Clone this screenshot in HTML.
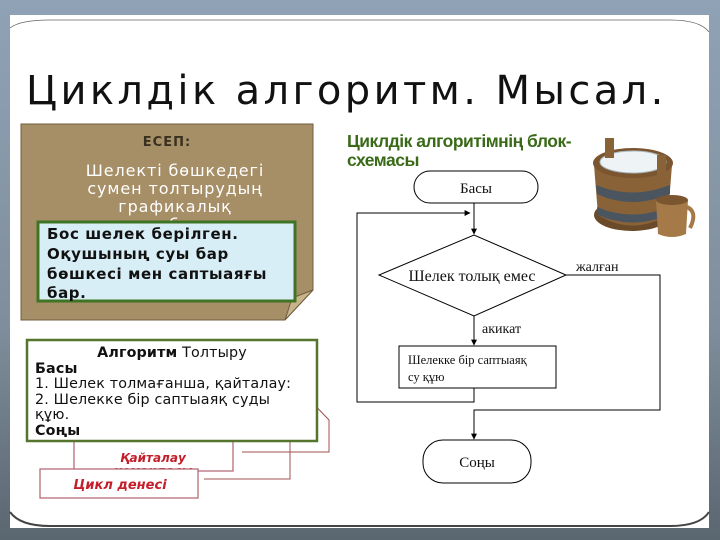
<!DOCTYPE html>
<html><head><meta charset="utf-8"><style>
html,body{margin:0;padding:0;width:720px;height:540px;overflow:hidden;background:linear-gradient(#8fa2b6,#7f8e9c 60%,#5a6670);}
svg{display:block}
</style></head><body>
<svg width="720" height="540" viewBox="0 0 720 540" xmlns="http://www.w3.org/2000/svg" font-family="DejaVu Sans, Liberation Sans, sans-serif">
<defs>
<marker id="ar" viewBox="0 0 10 10" refX="9" refY="5" markerWidth="6" markerHeight="6" orient="auto"><path d="M0,0 L10,5 L0,10 z" fill="#000"/></marker>
</defs>
<rect x="10" y="15" width="699" height="513" fill="#fff"/>
<path d="M10,28 Q20,20 50,20 L670,20 Q700,20 709,32" fill="none" stroke="#666" stroke-width="0.8"/>
<path d="M10,512 Q20,526 50,526 L670,526 Q700,526 709,512" fill="none" stroke="#444" stroke-width="2"/>
<text x="26" y="104" font-size="40" letter-spacing="3.4" fill="#111">Циклдік алгоритм. Мысал.</text>

<path d="M21,124 L313,124 L313,290 L285,320 L21,320 Z" fill="#a68e66" stroke="#6f5d40" stroke-width="1"/>
<path d="M285,320 L292,298 L313,290 Z" fill="#c8b48a" stroke="#6f5d40" stroke-width="1"/>
<text x="167" y="146" font-size="13" font-weight="bold" fill="#3a3020" text-anchor="middle" letter-spacing="1">ЕСЕП:</text>
<g font-size="16" fill="#fff" text-anchor="middle" letter-spacing="0.9">
<text x="175" y="176">Шелекті бөшкедегі</text>
<text x="175" y="194">сумен толтырудың</text>
<text x="175" y="212">графикалық</text>
<text x="175" y="230">сызбасы</text>
</g>
<rect x="38" y="222" width="257" height="79" fill="#d8eef6" stroke="#3f7424" stroke-width="3"/>
<g font-size="15" font-weight="bold" fill="#111" letter-spacing="0.6">
<text x="47" y="239">Бос шелек берілген.</text>
<text x="47" y="259">Оқушының суы бар</text>
<text x="47" y="279">бөшкесі мен саптыаяғы</text>
<text x="47" y="298">бар.</text>
</g>

<rect x="74" y="438" width="159" height="33" fill="#fff" stroke="#b06070" stroke-width="1.2"/>
<text x="153" y="462" font-size="12" font-weight="bold" font-style="italic" fill="#c41e2a" text-anchor="middle">Қайталау</text>
<text x="153" y="475" font-size="12" font-weight="bold" font-style="italic" fill="#c41e2a" text-anchor="middle">командасы</text>
<rect x="40" y="469" width="158" height="29" fill="#fff" stroke="#b06070" stroke-width="1.2"/>
<text x="120" y="489" font-size="13" font-weight="bold" font-style="italic" fill="#c41e2a" text-anchor="middle">Цикл денесі</text>
<polyline points="305,395 329,420 329,452 242,452" fill="none" stroke="#a05050" stroke-width="1"/>
<polyline points="268,410 290,442 290,479 204,479" fill="none" stroke="#a05050" stroke-width="1"/>
<rect x="27" y="340" width="290" height="101" fill="#fff" stroke="#55752f" stroke-width="2.5"/>
<g font-size="14.3" fill="#111" letter-spacing="0.15">
<text x="172" y="357" text-anchor="middle"><tspan font-weight="bold">Алгоритм</tspan> Толтыру</text>
<text x="35" y="373" font-weight="bold">Басы</text>
<text x="35" y="388">1. Шелек толмағанша, қайталау:</text>
<text x="35" y="404">2. Шелекке бір саптыаяқ суды</text>
<text x="35" y="419">құю.</text>
<text x="35" y="435" font-weight="bold">Соңы</text>
</g>

<text x="347" y="147" font-size="17.5" font-weight="bold" fill="#3a6a18" letter-spacing="-0.5" font-family="Liberation Sans, sans-serif">Циклдік алгоритімнің блок-</text>
<text x="347" y="166" font-size="17.5" font-weight="bold" fill="#3a6a18" letter-spacing="-0.5" font-family="Liberation Sans, sans-serif">схемасы</text>

<g stroke="#000" stroke-width="1" fill="none" font-family="Liberation Serif, serif">
<rect x="414" y="171" width="124" height="32" rx="16" fill="#fff"/>
<line x1="474" y1="203" x2="474" y2="234" marker-end="url(#ar)"/>
<polyline points="474,388 474,402 357,402 357,213 470,213" marker-end="url(#ar)"/>
<polygon points="379,275 474,235 566,275 474,316" fill="#fff"/>
<line x1="474" y1="316" x2="474" y2="345" marker-end="url(#ar)"/>
<rect x="399" y="346" width="157" height="42" fill="#fff"/>
<polyline points="566,275 660,275 660,410 474,410 474,439" marker-end="url(#ar)"/>
<rect x="423" y="440" width="108" height="43" rx="20" fill="#fff"/>
</g>
<g font-family="Liberation Serif, serif" fill="#111">
<text x="476" y="193" font-size="15" text-anchor="middle">Басы</text>
<text x="472" y="281" font-size="16" text-anchor="middle">Шелек толық емес</text>
<text x="576" y="271" font-size="14">жалған</text>
<text x="482" y="333" font-size="14">акикат</text>
<text x="408" y="364" font-size="12.5">Шелекке бір саптыаяқ</text>
<text x="408" y="381" font-size="12.5">су құю</text>
<text x="477" y="467" font-size="15" text-anchor="middle">Соңы</text>
</g>

<g>
<ellipse cx="632" cy="215" rx="38" ry="16" fill="#6b4a2a"/>
<path d="M594,165 L598,215 Q632,236 668,215 L672,165 Z" fill="#8a6238"/>
<path d="M596,185 Q632,200 670,185 L670,194 Q632,210 597,194 Z" fill="#4a5560"/>
<path d="M597,207 Q632,222 669,207 L668,215 Q632,230 598,215 Z" fill="#4a5560"/>
<ellipse cx="633" cy="163" rx="40" ry="15" fill="#7a5530"/>
<ellipse cx="633" cy="162" rx="33" ry="11" fill="#eef3f6" stroke="#aab8c0"/>
<rect x="605" y="138" width="9" height="20" fill="#8a6238"/>
<rect x="657" y="155" width="9" height="24" fill="#8a6238"/>
<path d="M656,200 L658,234 Q672,240 686,234 L688,200 Z" fill="#a57a48"/>
<ellipse cx="672" cy="200" rx="16" ry="5" fill="#7a5530"/>
<path d="M687,207 Q698,212 690,228" fill="none" stroke="#a57a48" stroke-width="4"/>
</g>
</svg>
</body></html>
